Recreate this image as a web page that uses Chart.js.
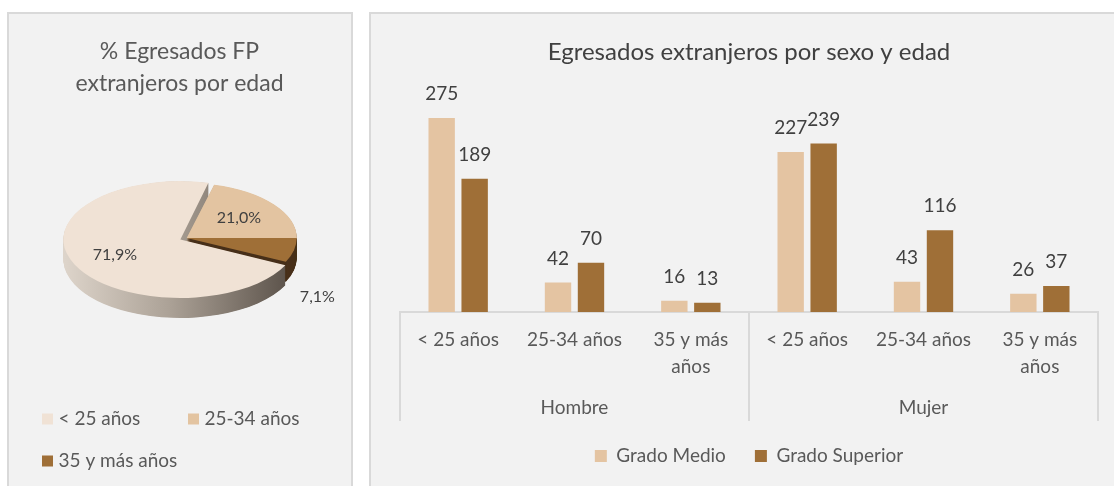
<!DOCTYPE html>
<html><head><meta charset="utf-8">
<script src="https://cdn.jsdelivr.net/npm/chart.js@4.4.1/dist/chart.umd.min.js"></script>
<style>
html,body{margin:0;padding:0;background:#fff;width:1114px;height:486px;overflow:hidden;}
.panel{position:absolute;background:#f2f2f2;border:2px solid #d9d9d9;box-sizing:border-box;}
#p1{left:7px;top:12px;width:346px;height:490px;}
#p2{left:369px;top:12px;width:760px;height:490px;}
canvas{position:absolute;}
#c1{left:8px;top:13px;}
#c2{left:370px;top:13px;}
</style></head><body>
<div class="panel" id="p1"></div>
<div class="panel" id="p2"></div>
<canvas id="c1" width="343" height="473"></canvas>
<canvas id="c2" width="744" height="473"></canvas>
<script>
// ---- data ----
const pieTitle = ['% Egresados FP', 'extranjeros por edad'];
const pieLabels = ['< 25 años', '25-34 años', '35 y más años'];
const piePercent = [71.9, 21.0, 7.1];
const pieColors = ['#f0e2d5', '#e3c4a1', '#9f6f37'];

const barTitle = 'Egresados extranjeros por sexo y edad';
const sexes = ['Hombre', 'Mujer'];
const ageGroups = ['< 25 años', '25-34 años', ['35 y más', 'años']];
const seriesNames = ['Grado Medio', 'Grado Superior'];
const gradoMedio = [275, 42, 16, 227, 43, 26];
const gradoSuperior = [189, 70, 13, 239, 116, 37];
const barColors = ['#e4c4a2', '#9f6f37'];

const FONT = 'Lato';

// ---- pie: 3D look plugin ----
const pie3d = {
  id: 'pie3d',
  beforeDatasetsDraw(chart, args, o) {
    const ctx = chart.ctx;
    const els = chart.getDatasetMeta(0).data;
    const ex = els[0].x, ey = els[0].y;
    ctx.save();
    ctx.translate(o.cx, o.cy);
    ctx.scale(1, o.k);
    ctx.translate(-ex, -ey);
    const R = els[0].outerRadius + 8;
    const g = ctx.createLinearGradient(ex - R, 0, ex + R, 0);
    g.addColorStop(0, '#ded5cb');
    g.addColorStop(0.45, '#aca297');
    g.addColorStop(1, '#554c44');
    const sides = [g, '#b8a48e', '#48301a'];
    const depth = o.depth / o.k;
    for (let d = depth; d > 0; d -= 1) {
      els.forEach((el, i) => {
        const proxy = Object.create(el);
        proxy.options = Object.assign({}, el.options, {backgroundColor: sides[i], borderWidth: 0});
        ctx.save();
        ctx.translate(0, d);
        el.draw.call(proxy, ctx);
        ctx.restore();
      });
    }
  },
  afterDatasetsDraw(chart, args, o) {
    const ctx = chart.ctx;
    ctx.restore();
    const els = chart.getDatasetMeta(0).data;
    ctx.save();
    ctx.font = '16px ' + FONT;
    ctx.fillStyle = '#404040';
    ctx.textAlign = 'center';
    ctx.textBaseline = 'middle';
    els.forEach((el, i) => {
      const mid = (el.startAngle + el.endAngle) / 2;
      const f = o.labelRadius[i];
      let x, y;
      if (f) {
        const rr = el.outerRadius * f;
        x = o.cx + Math.cos(mid) * rr;
        y = o.cy + Math.sin(mid) * rr * o.k;
      } else {
        const rr = el.outerRadius + 24;
        x = o.cx + Math.cos(mid) * rr;
        y = o.cy + Math.sin(mid) * rr * o.k + o.depth + 24;
      }
      ctx.fillText(piePercent[i].toFixed(1).replace('.', ',') + '%', x, y);
    });
    ctx.restore();
  },
  afterDraw(chart, args, o) {
    // legend (two columns, left aligned like the original)
    const ctx = chart.ctx;
    ctx.save();
    ctx.font = '19px ' + FONT;
    ctx.textBaseline = 'middle';
    ctx.textAlign = 'left';
    pieLabels.forEach((t, i) => {
      const x = o.legendX[i % 2];
      const y = o.legendY[Math.floor(i / 2)];
      ctx.fillStyle = pieColors[i];
      ctx.fillRect(x, y - 5.5, 11, 11);
      ctx.fillStyle = '#595959';
      ctx.fillText(t, x + 16.5, y);
    });
    ctx.restore();
  }
};

// ---- bar plugins ----
const barValueLabels = {
  id: 'barValueLabels',
  afterDatasetsDraw(chart) {
    const ctx = chart.ctx;
    ctx.save();
    ctx.font = '19px ' + FONT;
    ctx.fillStyle = '#404040';
    ctx.textAlign = 'center';
    ctx.textBaseline = 'middle';
    chart.data.datasets.forEach((ds, di) => {
      chart.getDatasetMeta(di).data.forEach((el, i) => {
        ctx.fillText(String(ds.data[i]), el.x, el.y - 24);
      });
    });
    ctx.restore();
  }
};
const groupLines = {
  id: 'groupLines',
  afterDraw(chart) {
    const ctx = chart.ctx, xs = chart.scales.x, x2 = chart.scales.x2;
    const per = ageGroups.length;
    const pos = [xs.left];
    for (let g = 1; g < sexes.length; g++) {
      pos.push((xs.getPixelForValue(g * per - 1) + xs.getPixelForValue(g * per)) / 2);
    }
    pos.push(xs.right);
    ctx.save();
    ctx.strokeStyle = '#d9d9d9';
    ctx.lineWidth = 2;
    pos.forEach(x => {
      ctx.beginPath();
      ctx.moveTo(x, xs.top);
      ctx.lineTo(x, x2.bottom + 3.5);
      ctx.stroke();
    });
    ctx.restore();
  }
};

function build() {
  new Chart(document.getElementById('c1'), {
    type: 'pie',
    data: {
      labels: pieLabels,
      datasets: [{
        data: piePercent,
        backgroundColor: pieColors,
        borderWidth: 0,
        offset: [28, 0, 0],
        clip: false
      }]
    },
    options: {
      responsive: false,
      animation: false,
      rotation: 115.6,
      radius: 110,
      plugins: {
        legend: {display: false},
        tooltip: {enabled: false},
        title: {
          display: true,
          text: pieTitle,
          color: '#595959',
          font: {family: FONT, size: 23, weight: 'normal', lineHeight: 32 / 23},
          padding: {top: 23, bottom: 10}
        },
        pie3d: {
          cx: 178.7, cy: 225, k: 0.5, depth: 20,
          labelRadius: [0.72, 0.6, null],
          legendX: [34, 180], legendY: [406, 448]
        }
      }
    },
    plugins: [pie3d]
  });

  const xLabels = sexes.flatMap(() => ageGroups);
  new Chart(document.getElementById('c2'), {
    type: 'bar',
    data: {
      labels: xLabels,
      datasets: [
        {label: seriesNames[0], data: gradoMedio, backgroundColor: barColors[0],
         categoryPercentage: 0.567, barPercentage: 0.8},
        {label: seriesNames[1], data: gradoSuperior, backgroundColor: barColors[1],
         categoryPercentage: 0.567, barPercentage: 0.8}
      ]
    },
    options: {
      responsive: false,
      animation: false,
      layout: {padding: {left: 30, right: 16, top: 0, bottom: 10.5}},
      scales: {
        y: {display: false, min: 0, max: 300},
        x: {
          weight: 0,
          grid: {display: false, drawTicks: false},
          border: {display: true, color: '#d9d9d9', width: 2},
          ticks: {color: '#595959', padding: 14.5, maxRotation: 0, autoSkip: false,
                  font: {family: FONT, size: 19, lineHeight: 27 / 19}},
          afterFit(s) { s.height = 70; }
        },
        x2: {
          type: 'category',
          labels: sexes,
          position: 'bottom',
          offset: true,
          weight: 1,
          grid: {display: false, drawTicks: false},
          border: {display: false},
          ticks: {color: '#595959', padding: 14.6, maxRotation: 0,
                  font: {family: FONT, size: 19, lineHeight: 1.2}},
          afterFit(s) { s.height = 35.5; }
        }
      },
      plugins: {
        tooltip: {enabled: false},
        title: {
          display: true,
          text: barTitle,
          color: '#404040',
          font: {family: FONT, size: 24, weight: 'normal', lineHeight: 1.15},
          padding: {top: 25.2, bottom: 34.6}
        },
        legend: {
          position: 'bottom',
          labels: {boxWidth: 12, boxHeight: 12, padding: 29, color: '#595959',
                   font: {family: FONT, size: 19}}
        }
      }
    },
    plugins: [barValueLabels, groupLines]
  });
}

if (document.fonts && document.fonts.load) {
  Promise.all([document.fonts.load('19px Lato'), document.fonts.load('23px Lato')])
    .then(build, build);
} else { build(); }
</script>
</body></html>
